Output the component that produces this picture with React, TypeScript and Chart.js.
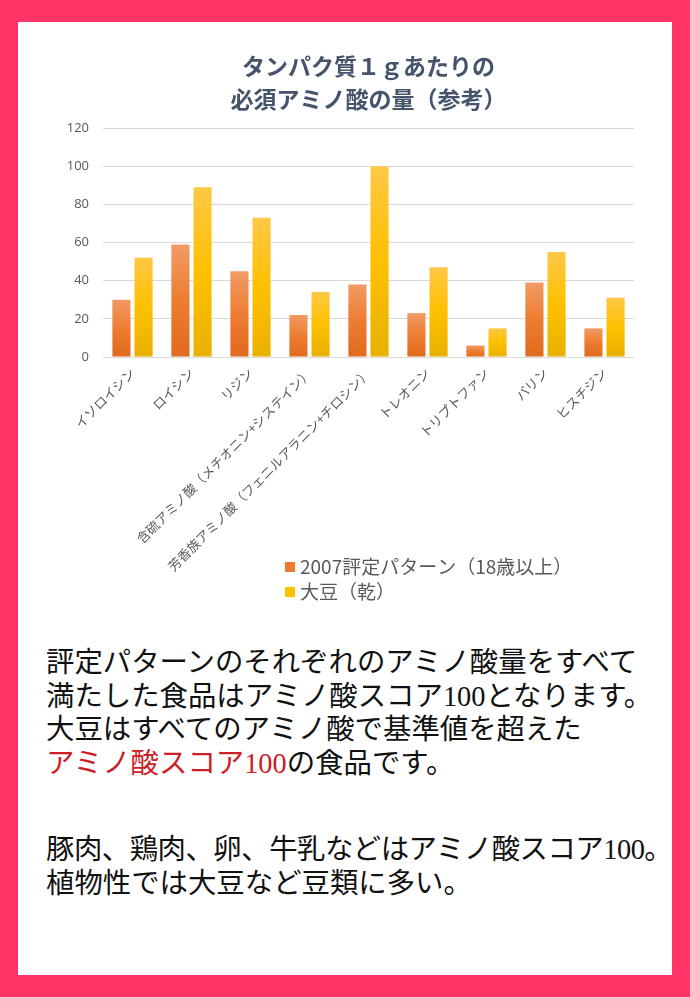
import React, { useEffect, useRef } from "react";
import { Chart, registerables } from "chart.js";

Chart.register(...registerables);

const categories = [
  "イソロイシン",
  "ロイシン",
  "リジン",
  "含硫アミノ酸（メチオニン+システイン）",
  "芳香族アミノ酸（フェニルアラニン+チロシン）",
  "トレオニン",
  "トリプトファン",
  "バリン",
  "ヒスチジン",
];
const seriesNames = ["2007評定パターン（18歳以上）", "大豆（乾）"];
const pattern2007 = [30, 59, 45, 22, 38, 23, 6, 39, 15];
const soybean = [52, 89, 73, 34, 100, 47, 15, 55, 31];
const yMin = 0;
const yMax = 120;
const yStep = 20;
const titleLines = ["タンパク質１ｇあたりの", "必須アミノ酸の量（参考）"];

const ORANGE = ["#F29A66", "#ED7D31", "#E06A1E"];
const YELLOW = ["#FFC845", "#FFC000", "#E8B000"];
const LEGEND_COLORS = ["#EE7A2E", "#FFC000"];

function gradientFor(stops: string[]) {
  return (ctx: any) => {
    const chart = ctx.chart;
    if (!chart.chartArea || ctx.type !== "data") return stops[1];
    const y = chart.scales.y;
    const top = y.getPixelForValue(ctx.raw);
    const bottom = y.getPixelForValue(0);
    if (!isFinite(top) || !isFinite(bottom) || bottom - top < 1) return stops[1];
    const g = chart.ctx.createLinearGradient(0, top, 0, bottom);
    g.addColorStop(0, stops[0]);
    g.addColorStop(0.5, stops[1]);
    g.addColorStop(1, stops[2]);
    return g;
  };
}

const legendPlugin = {
  id: "stackedLegend",
  afterDraw(chart: any) {
    const c = chart.ctx;
    c.save();
    c.font = '19px "Noto Sans CJK JP", "Open Sans", sans-serif';
    c.textBaseline = "middle";
    c.textAlign = "left";
    chart.data.datasets.forEach((ds: any, i: number) => {
      const cy = 545 + i * 25;
      const x = 267;
      c.fillStyle = LEGEND_COLORS[i];
      c.fillRect(x, cy - 5, 10, 10);
      c.fillStyle = "#595959";
      c.fillText(ds.label, x + 15, cy);
    });
    c.restore();
  },
};

function BarChart() {
  const ref = useRef<HTMLCanvasElement | null>(null);
  useEffect(() => {
    if (!ref.current) return;
    const chart = new Chart(ref.current, {
      type: "bar",
      data: {
        labels: categories,
        datasets: [
          {
            label: seriesNames[0],
            data: pattern2007,
            backgroundColor: gradientFor(ORANGE) as any,
            categoryPercentage: 0.75,
            barPercentage: 0.82,
          },
          {
            label: seriesNames[1],
            data: soybean,
            backgroundColor: gradientFor(YELLOW) as any,
            categoryPercentage: 0.75,
            barPercentage: 0.82,
          },
        ],
      },
      options: {
        responsive: false,
        animation: false,
        layout: { padding: { top: 28, right: 38, left: 0, bottom: 47 } },
        plugins: {
          legend: { display: false },
          tooltip: { enabled: false },
          title: {
            display: true,
            text: titleLines,
            fullSize: false,
            color: "#44546A",
            font: { size: 23, weight: "bold", family: '"Noto Sans CJK JP", sans-serif', lineHeight: 1.435 },
            padding: { top: 0, bottom: 12 },
          },
        },
        scales: {
          x: {
            grid: { display: false, drawTicks: false },
            border: { display: false },
            ticks: {
              color: "#595959",
              font: { size: 13, family: '"Noto Sans CJK JP", sans-serif' },
              minRotation: 45,
              maxRotation: 45,
              autoSkip: false,
              padding: 8,
            },
            afterFit: (s: any) => {
              s.height = 218;
            },
          },
          y: {
            min: yMin,
            max: yMax,
            grid: { color: "#D9D9D9", drawTicks: false, lineWidth: 1 },
            border: { display: false },
            ticks: {
              stepSize: yStep,
              color: "#595959",
              font: { size: 13, family: '"Open Sans", "Noto Sans", sans-serif' },
              padding: 14,
            },
            afterFit: (s: any) => {
              s.width = 85;
            },
          },
        },
      },
      plugins: [legendPlugin],
    });
    return () => chart.destroy();
  }, []);
  return <canvas ref={ref} width={654} height={600} style={{ position: "absolute", left: 0, top: 0, width: 654, height: 600 }} />;
}

export default function App() {
  const textStyle: React.CSSProperties = {
    position: "absolute",
    left: 28,
    top: 624,
    width: 630,
    fontFamily: '"Liberation Serif", "Noto Sans CJK JP", serif',
    fontSize: 28.4,
    lineHeight: "33.7px",
    color: "#111111",
    margin: 0,
    whiteSpace: "nowrap",
  };
  return (
    <div style={{ position: "absolute", left: 0, top: 0, width: 690, height: 997, background: "#FF3366", overflow: "hidden" }}>
      <div lang="ja" style={{ position: "absolute", left: 18, top: 22, width: 654, height: 953, background: "#FFFFFF" }}>
        <BarChart />
        <div style={textStyle}>
          <div>評定パターンのそれぞれのアミノ酸量をすべて</div>
          <div>満たした食品はアミノ酸スコア100となります。</div>
          <div>大豆はすべてのアミノ酸で基準値を超えた</div>
          <div>
            <span style={{ color: "#CC2027" }}>アミノ酸スコア100</span>の食品です。
          </div>
          <div style={{ marginTop: 52, letterSpacing: -0.5 }}>豚肉、鶏肉、卵、牛乳などはアミノ酸スコア100。</div>
          <div>植物性では大豆など豆類に多い。</div>
        </div>
      </div>
    </div>
  );
}
